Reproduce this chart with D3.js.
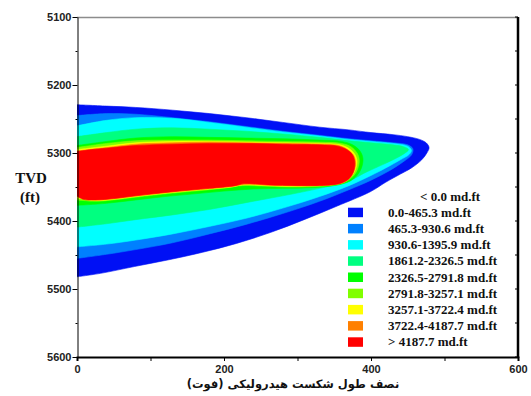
<!DOCTYPE html>
<html>
<head>
<meta charset="utf-8">
<script src="https://cdn.jsdelivr.net/npm/d3@7"></script>
<style>
  body { margin: 0; background: #ffffff; }
  svg { display: block; }
</style>
</head>
<body>
<svg id="chart" width="531" height="396"></svg>
<script>
// Axis ticks
const xTickLabels = [0, 200, 400, 600];
const xTickMarks = [0, 100, 200, 300, 400, 500, 600];
const yTickLabels = [5100, 5200, 5300, 5400, 5500, 5600];
const yTickMarks = [5100, 5150, 5200, 5250, 5300, 5350, 5400, 5450, 5500, 5550, 5600];

// Legend (conductivity classes)
const legendLabels = [
  "< 0.0 md.ft",
  "0.0-465.3 md.ft",
  "465.3-930.6 md.ft",
  "930.6-1395.9 md.ft",
  "1861.2-2326.5 md.ft",
  "2326.5-2791.8 md.ft",
  "2791.8-3257.1 md.ft",
  "3257.1-3722.4 md.ft",
  "3722.4-4187.7 md.ft",
  "> 4187.7 md.ft"
];
const legendColors = [null, "#0010f5", "#0080ff", "#00ffff", "#00ff80", "#00ff00", "#80ff00", "#ffff00", "#ff8000", "#ff0000"];

// Contour outlines: [fracture half-length (ft), TVD (ft)], top edge left->tip, then bottom edge back to x = 0
const zoneAbove0 = [
  [0,5229],[40,5231],[80,5233],[130,5237],[180,5242],[230,5248],[280,5255],[330,5262],[370,5266],[400,5270],[430,5273],[450,5276],[466,5280],[475,5285],[479,5292],
  [476,5300],[469,5310],[455,5322],[440,5331],[420,5343],[399,5357],[354,5378],[309,5398],[263,5417],[217,5433],[171,5446],[125,5457],[78,5467],[32,5477],[0,5482]
];
const zoneAbove465 = [
  [0,5245],[40,5242],[80,5243],[130,5248],[180,5254],[230,5261],[280,5268],[330,5274],[370,5279],[400,5282],[430,5285],[450,5288],[457,5294],
  [455,5303],[445,5312],[425,5326],[400,5340],[370,5354],[330,5371],[280,5389],[230,5405],[180,5419],[130,5432],[80,5442],[40,5449],[0,5455]
];
const zoneAbove931 = [
  [0,5260],[40,5252],[80,5248],[130,5249],[180,5255],[230,5262],[280,5269],[330,5275],[370,5280],[400,5283],[430,5286],[450,5290],[455,5296],
  [452,5302],[440,5310],[420,5322],[400,5333],[370,5348],[330,5364],[280,5381],[230,5396],[180,5408],[130,5419],[80,5428],[40,5434],[0,5438]
];
const zoneAbove1861 = [
  [0,5276],[40,5270],[80,5265],[130,5263],[180,5265],[230,5268],[280,5272],[330,5277],[370,5282],[400,5285],[430,5288],[445,5291],[451,5295],
  [445,5301],[430,5310],[410,5320],[390,5330],[378,5337],[360,5344],[330,5352],[280,5363],[230,5373],[180,5383],[130,5391],[80,5398],[40,5404],[0,5409]
];
const zoneAbove2327 = [
  [0,5289],[40,5283],[80,5278],[130,5276],[180,5277],[230,5278],[280,5279],[330,5281],[360,5283],[375,5288],[385,5297],[389,5308],[387,5322],[381,5333],[372,5341],
  [355,5347],[320,5351],[280,5352],[240,5353],[200,5356],[160,5360],[120,5364],[80,5369],[40,5374],[0,5377]
];
const zoneAbove2792 = [
  [0,5292],[40,5286],[80,5282],[130,5281],[180,5281],[230,5282],[280,5283],[330,5284],[360,5286],[373,5291],[381,5300],[384,5310],[382,5323],[376,5334],[366,5342],
  [350,5347],[300,5350],[260,5349],[225,5348],[205,5351],[180,5354],[130,5359],[80,5365],[50,5369],[25,5371],[0,5369]
];
const zoneAbove3257 = [
  [0,5295],[40,5290],[80,5285],[130,5283],[180,5283],[230,5284],[280,5285],[330,5286],[358,5288],[371,5294],[378,5302],[381,5312],[379,5324],[373,5335],[363,5343],
  [350,5346],[300,5349],[260,5348],[225,5347],[210,5350],[180,5353],[130,5358],[80,5364],[50,5368],[25,5370],[0,5366]
];
const zoneAbove3722 = [
  [0,5297],[40,5292],[80,5287],[130,5285],[180,5284],[230,5285],[280,5286],[330,5287],[356,5289],[368,5295],[376,5303],[379,5314],[377,5326],[371,5337],[361,5344],
  [345,5347],[300,5348],[260,5347],[227,5346],[212,5349],[180,5352],[130,5357],[80,5363],[50,5367],[25,5369],[0,5364]
];
const zoneAbove4188 = [
  [0,5298],[20,5295],[40,5293],[80,5289],[130,5287],[180,5286],[230,5286],[280,5287],[330,5288],[355,5290],[367,5295],[375,5303],[378,5315],[376,5328],[370,5338],[360,5344],
  [345,5347],[300,5348],[260,5347],[228,5345],[215,5348],[180,5352],[130,5357],[80,5363],[50,5367],[25,5369],[8,5368],[0,5363]
];

const zones = [zoneAbove0, zoneAbove465, zoneAbove931, zoneAbove1861, zoneAbove2327, zoneAbove2792, zoneAbove3257, zoneAbove3722, zoneAbove4188];
const zoneColors = ["#0010f5", "#0080ff", "#00ffff", "#00ff80", "#00ff00", "#80ff00", "#ffff00", "#ff8000", "#ff0000"];

const svg = d3.select("#chart");
const plot = { left: 77, right: 518, top: 17, bottom: 357 };

const x = d3.scaleLinear().domain([0, 600]).range([plot.left, plot.right]);
const y = d3.scaleLinear().domain([5100, 5600]).range([plot.top, plot.bottom]);

svg.append("defs").append("clipPath").attr("id", "plotClip")
  .append("rect")
  .attr("x", plot.left).attr("y", plot.top)
  .attr("width", plot.right - plot.left).attr("height", plot.bottom - plot.top);

// Filled contour zones, outermost first
const outline = d3.line()
  .x(d => x(d[0]))
  .y(d => y(d[1]))
  .curve(d3.curveCatmullRom.alpha(0.5));

svg.append("g").attr("clip-path", "url(#plotClip)")
  .selectAll("path")
  .data(zones)
  .join("path")
  .attr("d", d => outline(d) + "Z")
  .attr("fill", (d, i) => zoneColors[i])
  .attr("stroke", (d, i) => zoneColors[i])
  .attr("stroke-width", 0.6);

// Frame
svg.append("line").attr("x1", plot.left).attr("x2", plot.right).attr("y1", plot.top + 0.5).attr("y2", plot.top + 0.5)
  .attr("stroke", "#8c8c8c").attr("stroke-width", 1.5);
svg.append("line").attr("x1", plot.right).attr("x2", plot.right).attr("y1", plot.top).attr("y2", plot.bottom + 1)
  .attr("stroke", "#000").attr("stroke-width", 2.5);

// Left axis
const yAxis = d3.axisLeft(y).tickValues(yTickMarks).tickSize(0).tickFormat("");
const gy = svg.append("g").attr("transform", `translate(${plot.left + 0.5},0)`).call(yAxis);
gy.select(".domain").attr("stroke", "#000").attr("stroke-width", 1);
gy.selectAll(".tick line").remove();
gy.selectAll(".tick").append("line")
  .attr("x1", 0).attr("x2", d => yTickLabels.includes(d) ? -5 : -2)
  .attr("stroke", "#000");
gy.selectAll(".tick").filter(d => yTickLabels.includes(d)).append("text")
  .attr("x", -6).attr("dy", "0.35em")
  .attr("text-anchor", "end")
  .attr("fill", "#222")
  .style("font", "bold 11px 'Liberation Sans', Arial, sans-serif")
  .text(d => d);

// Right axis ticks (inward)
svg.append("g").selectAll("line").data(yTickMarks).join("line")
  .attr("x1", plot.right).attr("x2", plot.right - 3)
  .attr("y1", d => y(d)).attr("y2", d => y(d))
  .attr("stroke", "#000");

// Bottom axis
const xAxis = d3.axisBottom(x).tickValues(xTickMarks).tickSize(4).tickFormat("");
const gx = svg.append("g").attr("transform", `translate(0,${plot.bottom})`).call(xAxis);
gx.select(".domain").attr("stroke", "#000").attr("stroke-width", 2);
gx.selectAll(".tick line").attr("stroke", "#000");
gx.selectAll(".tick").filter(d => xTickLabels.includes(d)).append("text")
  .attr("y", 16)
  .attr("text-anchor", "middle")
  .attr("fill", "#222")
  .style("font", "bold 11px 'Liberation Sans', Arial, sans-serif")
  .text(d => d);

// Axis titles
svg.append("text")
  .attr("x", 293).attr("y", 388)
  .attr("text-anchor", "middle")
  .attr("direction", "rtl")
  .attr("fill", "#111")
  .style("font", "bold 11.5px 'DejaVu Sans', sans-serif")
  .text("نصف طول شکست هیدرولیکی (فوت)");

const yTitle = svg.append("text")
  .attr("text-anchor", "middle")
  .attr("fill", "#111")
  .style("font", "bold 15px 'Liberation Serif', 'Times New Roman', serif");
yTitle.append("tspan").attr("x", 31).attr("y", 183).text("TVD");
yTitle.append("tspan").attr("x", 30).attr("y", 202).text("(ft)");

// Legend
const legendTop = 196, legendStep = 16.2;
const legend = svg.append("g");
const rows = legend.selectAll("g").data(legendLabels).join("g")
  .attr("transform", (d, i) => `translate(0,${legendTop + i * legendStep})`);
rows.filter((d, i) => legendColors[i] !== null).append("rect")
  .attr("x", 348).attr("y", -4.5).attr("width", 15).attr("height", 9.5)
  .attr("fill", d => legendColors[legendLabels.indexOf(d)]);
rows.append("text")
  .attr("x", (d, i) => legendColors[i] === null ? 420 : 388)
  .attr("dy", "0.35em")
  .attr("fill", "#111")
  .style("font", "bold 13px 'Liberation Serif', 'Times New Roman', serif")
  .text(d => d);
</script>
</body>
</html>
